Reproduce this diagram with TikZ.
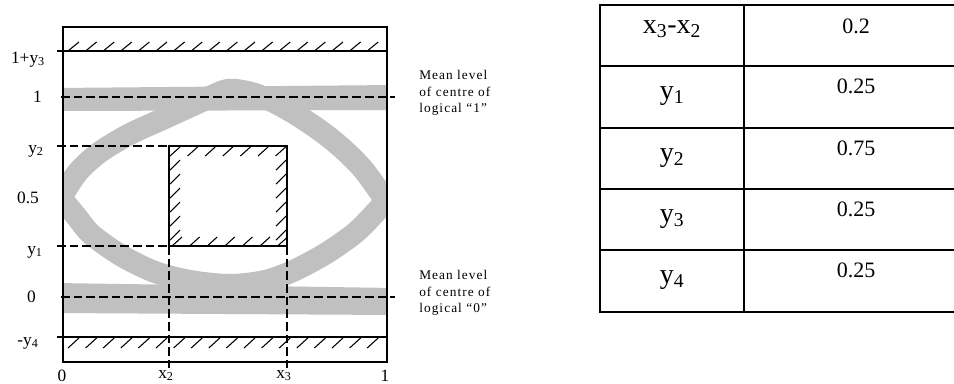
\documentclass[tikz,border=0pt]{standalone}
\usepackage{fontspec}
\setmainfont{Liberation Serif}
\newfontfamily\spacedfont[LetterSpace=8]{Liberation Serif}
\definecolor{eyegray}{RGB}{192,192,192}
\tikzset{
  levelline/.style={line width=1.6pt, dash pattern=on 6.5pt off 3pt},
  hatch/.style={line width=0.8pt},
  frame/.style={line width=1pt},
  band/.style={eyegray, line width=16.5pt, line join=round},
  ylab/.style={font=\fontsize{13}{15}\selectfont, anchor=base, inner sep=0pt},
  note/.style={font=\spacedfont\fontsize{10}{12.5}\selectfont, align=left, anchor=west, inner sep=0pt},
  cellname/.style={font=\fontsize{21}{24}\selectfont, anchor=base, inner sep=0pt},
  cellval/.style={font=\fontsize{16.5}{19}\selectfont, anchor=base, inner sep=0pt},
  tableline/.style={line width=2pt}
}
\begin{document}
\begin{tikzpicture}[x=0.75pt,y=-0.75pt]
  \useasboundingbox (0,0) rectangle (954,383);

  % eye pattern
  \begin{scope}
    \clip (63,27) rectangle (387,362);
    \fill[eyegray] (55,88) -- (395,85) -- (395,110) -- (55,111) -- cycle;
    \fill[eyegray] (55,283) -- (395,288) -- (395,315) -- (55,313) -- cycle;
    \draw[band] plot[smooth] coordinates {(58,202) (78,172) (100,152) (130,134) (165,118) (200,102) (228,90) (258,95) (292,112) (330,138) (362,168) (392,210)};
    \draw[band] plot[smooth] coordinates {(58,194) (76,216) (92,235) (122,256) (155,272) (190,281) (230,285) (265,281) (293,271) (325,254) (355,233) (375,213) (392,194)};
  \end{scope}

  % frame and limits
  \draw[frame] (63,27) rectangle (387,362);
  \draw[frame] (57,51) -- (387,51);
  \draw[frame] (57,337) -- (387,337);
  \foreach \i in {0,...,17} {
    \draw[hatch] (68+17.6*\i,51) -- ++(11,-9);
    \draw[hatch] (68+17.6*\i,348) -- ++(11,-10);
  }

  % mask
  \draw[frame] (169,146) rectangle (287,246);
  \foreach \i in {0,...,6} {
    \draw[hatch] (170+17.6*\i,156) -- ++(10,-9);
    \draw[hatch] (172+17.6*\i,246) -- ++(10,-9);
  }
  \foreach \i in {0,...,5} {
    \draw[hatch] (170,170+14*\i) -- ++(10,-10);
    \draw[hatch] (276,170+14*\i) -- ++(10,-10);
  }

  % levels
  \draw[levelline] (61,97) -- (395,97);
  \draw[levelline] (61,297) -- (395,297);
  \draw[levelline] (57,146) -- (169,146);
  \draw[levelline] (57,246) -- (169,246);
  \draw[levelline] (169,246) -- (169,368);
  \draw[levelline] (287,246) -- (287,368);

  % axis labels
  \node[ylab] (l1y3) at (28,63) {1+y\textsubscript{3}};
  \node[ylab] (l1) at (37.5,102) {1};
  \node[ylab] (ly2) at (36,153) {y\textsubscript{2}};
  \node[ylab] (lhalf) at (28,203) {0.5};
  \node[ylab] (ly1) at (35,254) {y\textsubscript{1}};
  \node[ylab] (l0) at (31.5,302) {0};
  \node[ylab] (ly4) at (28,345) {-y\textsubscript{4}};
  \node[ylab] (b0) at (62,381) {0};
  \node[ylab] (bx2) at (166,378) {x\textsubscript{2}};
  \node[ylab] (bx3) at (284,378) {x\textsubscript{3}};
  \node[ylab] (b1) at (385,381) {1};

  \node[note] (mean1) at (419,93) {Mean level\\of centre of\\logical “1”};
  \node[note] (mean0) at (419,293) {Mean level\\of centre of\\logical “0”};

  % table
  \foreach \y in {5,66,128,189,250,312}
    \draw[tableline] (599,\y) -- (954,\y);
  \draw[tableline] (600,5) -- (600,312);
  \draw[tableline] (744,5) -- (744,312);

  \node[cellname] (nx) at (672,33) {x\textsubscript{3}-x\textsubscript{2}};
  \node[cellname] (ny1) at (672,99) {y\textsubscript{1}};
  \node[cellname] (ny2) at (672,161) {y\textsubscript{2}};
  \node[cellname] (ny3) at (672,222) {y\textsubscript{3}};
  \node[cellname] (ny4) at (672,283) {y\textsubscript{4}};
  \node[cellval] (vx) at (856,33) {0.2};
  \node[cellval] (vy1) at (856,93) {0.25};
  \node[cellval] (vy2) at (856,155) {0.75};
  \node[cellval] (vy3) at (856,216) {0.25};
  \node[cellval] (vy4) at (856,277) {0.25};
\end{tikzpicture}
\end{document}
